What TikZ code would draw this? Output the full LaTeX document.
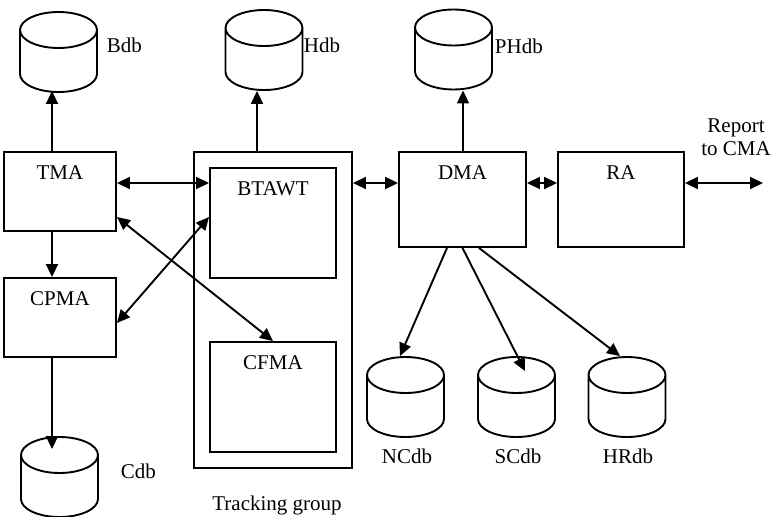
\documentclass[tikz,border=0pt]{standalone}
\usepackage{fontspec}
\setmainfont{Liberation Serif}
\usetikzlibrary{shapes.geometric,arrows.meta}

\begin{document}
\begin{tikzpicture}[x=1pt,y=-1pt,line width=1.9pt,
    every node/.style={font=\fontsize{21}{23}\selectfont,inner sep=0pt},
    agent/.style={draw,minimum width=126pt,minimum height=95pt},
    heading/.style={label={[anchor=base,yshift=-28pt]north:#1}},
    db/.style={draw,cylinder,shape border rotate=90,shape aspect=4.5,
      inner sep=4pt,minimum width=77pt,minimum height=80pt,anchor=shape center},
    flow/.style={-{Triangle[length=13pt,width=12pt]}},
    link/.style={{Triangle[length=13pt,width=12pt]}-{Triangle[length=13pt,width=12pt]}}]
  \useasboundingbox (0,0) rectangle (772,517);

  \node[agent,heading=TMA,minimum width=112pt,minimum height=79pt] (tma) at (60,191.5) {};
  \node[agent,heading=CPMA,minimum width=112pt,minimum height=79pt] (cpma) at (60,317.5) {};
  \node[agent,minimum width=158pt,minimum height=316pt] (group) at (273,310) {};
  \node[agent,heading=BTAWT,minimum height=110pt] (btawt) at (273,223) {};
  \node[agent,heading=CFMA,minimum height=110pt] (cfma) at (273,397) {};
  \node[agent,heading=DMA,minimum width=127pt] (dma) at (462.5,199.5) {};
  \node[agent,heading=RA] (ra) at (621,199.5) {};

  \node[db] (bdb) at (58.5,52) {};
  \node[db] (hdb) at (264,50) {};
  \node[db] (phdb) at (453.5,49.5) {};
  \node[db] (cdb) at (59.5,477) {};
  \node[db] (ncdb) at (405.5,397) {};
  \node[db] (scdb) at (516.5,397) {};
  \node[db] (hrdb) at (627,397) {};

  \node[anchor=base west] (bdbtext) at (106,52.5) {Bdb};
  \node[anchor=base west] (hdbtext) at (303,52.5) {Hdb};
  \node[anchor=base west] (phdbtext) at (494,53) {PHdb};
  \node[anchor=base west] (cdbtext) at (120,478.5) {Cdb};
  \node[anchor=base] (ncdbtext) at (407,463) {NCdb};
  \node[anchor=base] (scdbtext) at (518,463) {SCdb};
  \node[anchor=base] (hrdbtext) at (628,463) {HRdb};
  \node[anchor=base] (grouptext) at (277,510) {Tracking group};
  \node[anchor=north,align=center] (report) at (736,117.5) {Report\\to CMA};

  \coordinate (bus) at (0,183);
  \coordinate (out) at (763,183);

  \draw[flow] ([xshift=-8pt]tma.north) -- ([xshift=-6.5pt,yshift=2pt]bdb.south);
  \draw[flow] ([xshift=-8pt]tma.south) -- ([xshift=-8pt]cpma.north);
  \draw[flow] ([xshift=-8pt]cpma.south) -- ([xshift=-7.5pt,yshift=-13pt]cdb.north);
  \draw[flow] ([xshift=-16pt]group.north) -- ([xshift=-7pt]hdb.south);
  \draw[flow] ([xshift=0.5pt]dma.north) -- ([xshift=9.5pt]phdb.south);

  \draw[link] (tma.east |- bus) -- (btawt.west |- bus);
  \draw[link] (group.east |- bus) -- (dma.west |- bus);
  \draw[link] (dma.east |- bus) -- (ra.west |- bus);
  \draw[link] (ra.east |- bus) -- (out);
  \draw[link] ([yshift=-25.5pt]tma.east) -- (cfma.north);
  \draw[link] ([yshift=-5.5pt]cpma.east) -- ([yshift=6pt]btawt.west);

  \draw[flow] ([xshift=-15.5pt]dma.south) -- ([xshift=-5.5pt]ncdb.north);
  \draw[flow] (dma.south) -- ([xshift=8.5pt,yshift=-15pt]scdb.north);
  \draw[flow] ([xshift=16.5pt]dma.south) -- ([xshift=-7pt]hrdb.north);
\end{tikzpicture}
\end{document}
